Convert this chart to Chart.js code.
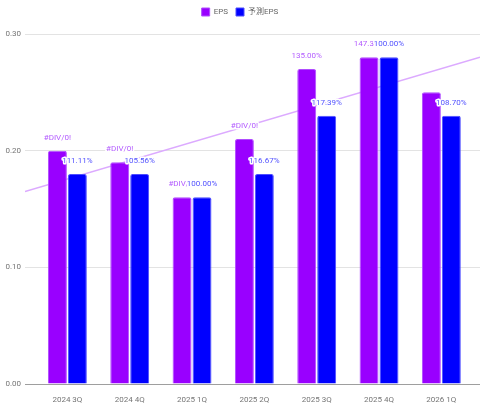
<!DOCTYPE html>
<html>
<head>
<meta charset="utf-8">
<script src="https://cdn.jsdelivr.net/npm/chart.js@4/dist/chart.umd.min.js"></script>
<style>
  html, body { margin: 0; padding: 0; background: #fff; }
  #wrap { width: 480px; height: 404px; }
</style>
</head>
<body>
<div id="wrap"><canvas id="chart"></canvas></div>
<script>
"use strict";

const quarters = ["2024 3Q", "2024 4Q", "2025 1Q", "2025 2Q", "2025 3Q", "2025 4Q", "2026 1Q"];
const eps = [0.20, 0.19, 0.16, 0.21, 0.27, 0.28, 0.25];
const forecastEps = [0.18, 0.18, 0.16, 0.18, 0.23, 0.28, 0.23];
const epsLabels = ["#DIV/0!", "#DIV/0!", "#DIV/0!", "#DIV/0!", "135.00%", "147.37%", ""];
const forecastLabels = ["111.11%", "105.56%", "100.00%", "116.67%", "117.39%", "100.00%", "108.70%"];
// trend line ends
const trendX = [-0.68, 6.62];
const trendY = [0.165, 0.28];
const yTicks = [0, 0.1, 0.2, 0.3];

const FONT = "Roboto, 'Noto Sans CJK JP', sans-serif";

// bar value labels, white halo; EPS label is cut where the forecast label starts
const barLabels = {
  id: "barLabels",
  afterDatasetsDraw(chart) {
    const ctx = chart.ctx;
    const m0 = chart.getDatasetMeta(0);
    const m1 = chart.getDatasetMeta(1);
    ctx.save();
    ctx.font = "8px " + FONT;
    ctx.textAlign = "center";
    ctx.textBaseline = "middle";
    ctx.lineJoin = "round";
    ctx.lineWidth = 3;
    ctx.strokeStyle = "#fff";
    for (let i = 0; i < quarters.length; i++) {
      const a = m0.data[i], b = m1.data[i];
      const ay = a.y - 13, by = b.y - 13;
      const bw = ctx.measureText(forecastLabels[i]).width;
      const bLeft = b.x - bw / 2;
      if (epsLabels[i]) {
        ctx.save();
        const aw = ctx.measureText(epsLabels[i]).width;
        if (a.x + aw / 2 > bLeft && Math.abs(ay - by) < 9) {
          ctx.beginPath();
          ctx.rect(0, 0, bLeft, chart.height);
          ctx.clip();
        }
        ctx.strokeText(epsLabels[i], a.x, ay);
        ctx.fillStyle = "#b35cff";
        ctx.fillText(epsLabels[i], a.x, ay);
        ctx.restore();
      }
      ctx.strokeText(forecastLabels[i], b.x, by);
      ctx.fillStyle = "#5252ff";
      ctx.fillText(forecastLabels[i], b.x, by);
    }
    ctx.restore();
  }
};

// extra room under the legend
const legendRoom = {
  id: "legendRoom",
  beforeInit(chart) {
    const fit = chart.legend.fit;
    chart.legend.fit = function () {
      fit.bind(chart.legend)();
      this.height += 8;
    };
  }
};

new Chart(document.getElementById("chart"), {
  type: "bar",
  data: {
    datasets: [
      {
        label: "EPS",
        data: eps.map((v, i) => ({ x: i, y: v })),
        backgroundColor: "#9900ff",
        borderColor: "#b04dff",
        borderWidth: 1,
        borderRadius: 2,
        borderSkipped: "bottom",
        order: 1
      },
      {
        label: "予測EPS",
        data: forecastEps.map((v, i) => ({ x: i, y: v })),
        backgroundColor: "#0000ff",
        borderColor: "#4d4dff",
        borderWidth: 1,
        borderRadius: 2,
        borderSkipped: "bottom",
        order: 1
      },
      {
        type: "line",
        label: "trend",
        data: trendX.map((x, i) => ({ x: x, y: trendY[i] })),
        borderColor: "#dcaaff",
        borderWidth: 1.5,
        pointRadius: 0,
        fill: false,
        order: 10
      }
    ]
  },
  options: {
    responsive: true,
    maintainAspectRatio: false,
    animation: false,
    layout: { padding: 0 },
    datasets: { bar: { categoryPercentage: 0.64, barPercentage: 0.95 } },
    plugins: {
      legend: {
        position: "top",
        labels: {
          boxWidth: 8,
          boxHeight: 8,
          padding: 8,
          color: "#666",
          font: { family: FONT, size: 8 },
          filter: item => item.datasetIndex < 2
        }
      },
      tooltip: { enabled: false }
    },
    scales: {
      x: {
        type: "linear",
        offset: false,
        min: trendX[0],
        max: trendX[1],
        grid: { display: false, offset: false },
        border: { display: true, color: "#9e9e9e", width: 1 },
        ticks: {
          stepSize: 1,
          includeBounds: false,
          autoSkip: false,
          maxRotation: 0,
          padding: 3,
          color: "#757575",
          font: { family: FONT, size: 8 },
          callback: v => quarters[v] || ""
        },
        afterFit: s => { s.height = 20; }
      },
      y: {
        min: 0,
        max: 0.3,
        afterBuildTicks: s => { s.ticks = yTicks.map(v => ({ value: v })); },
        grid: { color: "#e3e3e3", drawTicks: false },
        border: { display: false },
        ticks: {
          padding: 4,
          color: "#757575",
          font: { family: FONT, size: 8 },
          callback: v => v.toFixed(2)
        },
        afterFit: s => { s.width = 25; }
      }
    }
  },
  plugins: [barLabels, legendRoom]
});
</script>
</body>
</html>
